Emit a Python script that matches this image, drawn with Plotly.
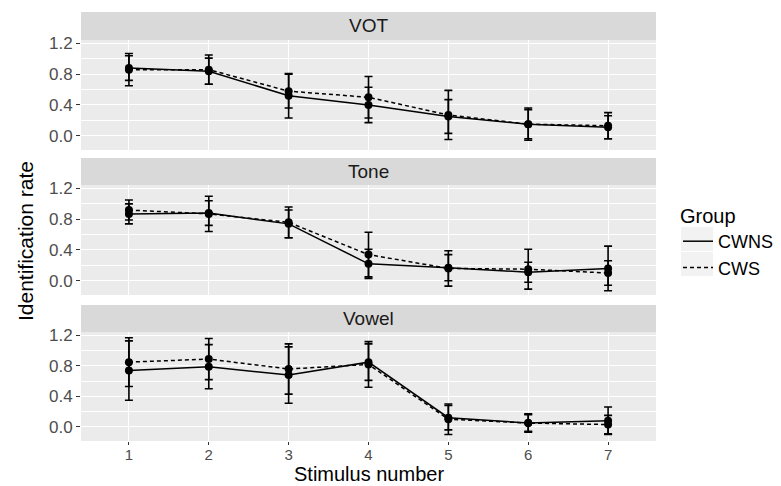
import plotly.graph_objects as go

stimulus = [1, 2, 3, 4, 5, 6, 7]
panels = ["VOT", "Tone", "Vowel"]
groups = ["CWNS", "CWS"]

vot_cwns = [0.88, 0.84, 0.52, 0.40, 0.25, 0.15, 0.11]
vot_cwns_err = [0.16, 0.17, 0.29, 0.23, 0.22, 0.21, 0.15]
vot_cws = [0.86, 0.86, 0.58, 0.50, 0.27, 0.15, 0.13]
vot_cws_err = [0.21, 0.19, 0.22, 0.27, 0.32, 0.19, 0.17]

tone_cwns = [0.87, 0.88, 0.74, 0.22, 0.17, 0.11, 0.16]
tone_cwns_err = [0.13, 0.16, 0.18, 0.19, 0.17, 0.13, 0.29]
tone_cws = [0.92, 0.87, 0.76, 0.34, 0.16, 0.15, 0.10]
tone_cws_err = [0.13, 0.23, 0.20, 0.29, 0.23, 0.26, 0.16]

vowel_cwns = [0.74, 0.79, 0.68, 0.85, 0.12, 0.05, 0.08]
vowel_cwns_err = [0.39, 0.29, 0.37, 0.24, 0.16, 0.12, 0.18]
vowel_cws = [0.85, 0.89, 0.76, 0.82, 0.10, 0.05, 0.03]
vowel_cws_err = [0.32, 0.27, 0.33, 0.30, 0.20, 0.11, 0.12]

y_ticks = [0.0, 0.4, 0.8, 1.2]
y_tick_labels = ["0.0", "0.4", "0.8", "1.2"]
y_minor = [-0.2, 0.2, 0.6, 1.0]

data = {
    "VOT": [(vot_cwns, vot_cwns_err), (vot_cws, vot_cws_err)],
    "Tone": [(tone_cwns, tone_cwns_err), (tone_cws, tone_cws_err)],
    "Vowel": [(vowel_cwns, vowel_cwns_err), (vowel_cws, vowel_cws_err)],
}

W, H = 781, 486
x_dom = [81 / W, 656 / W]
plot_px = [(40, 150), (185, 295), (332, 441)]
strip_px = [(12, 40), (158, 185), (305, 332)]
dashes = ["solid", "4px,3px"]
FONT = "Liberation Sans, Arial, Helvetica, sans-serif"

fig = go.Figure()

for i, panel in enumerate(panels):
    xa = "x" if i == 0 else f"x{i+1}"
    ya = "y" if i == 0 else f"y{i+1}"
    for g, (vals, errs) in enumerate(data[panel]):
        fig.add_trace(go.Scatter(
            x=stimulus, y=vals, xaxis=xa, yaxis=ya,
            mode="lines+markers",
            line=dict(color="black", width=1.5, dash=dashes[g]),
            marker=dict(color="black", size=8),
            error_y=dict(type="data", array=errs, visible=True,
                         color="black", thickness=1.6, width=4),
            showlegend=False, name=groups[g],
        ))

for g in range(2):
    fig.add_trace(go.Scatter(
        x=[None], y=[None], mode="lines", name=groups[g],
        line=dict(color="black", width=1.5, dash=dashes[g]),
        showlegend=True,
    ))

shapes = []
annotations = []
layout = {}
for i, panel in enumerate(panels):
    top, bot = plot_px[i]
    ydom = [1 - bot / H, 1 - top / H]
    sfx = "" if i == 0 else str(i + 1)
    layout[f"xaxis{sfx}"] = dict(
        domain=x_dom, anchor=f"y{sfx}", range=[0.4, 7.6],
        tickvals=stimulus, ticktext=[str(s) for s in stimulus],
        showticklabels=(i == 2), ticks="outside" if i == 2 else "",
        ticklen=3, tickcolor="#333333", tickwidth=1, ticklabelstandoff=-3,
        showgrid=True, gridcolor="white", gridwidth=1.3,
        zeroline=False, showline=False,
        tickfont=dict(size=15, color="#4D4D4D", family=FONT),
    )
    layout[f"yaxis{sfx}"] = dict(
        domain=ydom, anchor=f"x{sfx}", range=[-0.186, 1.246],
        tickvals=y_ticks, ticktext=y_tick_labels,
        ticks="outside", ticklen=4, tickcolor="#333333", tickwidth=1,
        showgrid=True, gridcolor="white", gridwidth=1.3,
        minor=dict(tickvals=y_minor, showgrid=True, gridcolor="white",
                   gridwidth=0.6, ticks=""),
        zeroline=False, showline=False,
        tickfont=dict(size=17, color="#4D4D4D", family=FONT),
    )
    shapes.append(dict(type="rect", xref="paper", yref="paper",
                       x0=x_dom[0], x1=x_dom[1], y0=ydom[0], y1=ydom[1],
                       fillcolor="#EBEBEB", line=dict(width=0), layer="below"))
    st, sb = strip_px[i]
    shapes.append(dict(type="rect", xref="paper", yref="paper",
                       x0=x_dom[0], x1=x_dom[1], y0=1 - sb / H, y1=1 - st / H,
                       fillcolor="#D9D9D9", line=dict(width=0), layer="below"))
    annotations.append(dict(text=panel, xref="paper", yref="paper",
                            x=(x_dom[0] + x_dom[1]) / 2,
                            y=1 - (st + sb) / 2 / H, showarrow=False,
                            xanchor="center", yanchor="middle",
                            font=dict(size=19, color="#1A1A1A", family=FONT)))

# grey legend key backgrounds (ggplot style)
for k, (t, b) in enumerate([(227, 251), (252, 276)]):
    shapes.append(dict(type="rect", xref="paper", yref="paper",
                       x0=681 / W, x1=713 / W, y0=1 - b / H, y1=1 - t / H,
                       fillcolor="#F2F2F2", line=dict(width=0), layer="below"))

annotations.append(dict(text="Identification rate", xref="paper", yref="paper",
                        x=25 / W, y=1 - 241 / H, textangle=-90, showarrow=False,
                        xanchor="center", yanchor="middle",
                        font=dict(size=21, color="black", family=FONT)))
annotations.append(dict(text="Stimulus number", xref="paper", yref="paper",
                        x=(x_dom[0] + x_dom[1]) / 2, y=0.0, showarrow=False,
                        xanchor="center", yanchor="bottom", borderpad=0,
                        font=dict(size=20, color="black", family=FONT)))

fig.update_layout(
    width=W, height=H,
    margin=dict(l=0, r=0, t=0, b=0, autoexpand=False),
    paper_bgcolor="white", plot_bgcolor="rgba(0,0,0,0)",
    shapes=shapes, annotations=annotations,
    legend=dict(title=dict(text="Group", font=dict(size=20, color="black", family=FONT)),
                x=678 / W, y=1 - 197 / H, xanchor="left", yanchor="top",
                font=dict(size=18, color="black", family=FONT),
                bgcolor="rgba(0,0,0,0)", itemwidth=30, tracegroupgap=0),
    **layout,
)

fig.write_html("out.html", config={"displayModeBar": False},
               post_script="document.body.style.margin='0px';")
